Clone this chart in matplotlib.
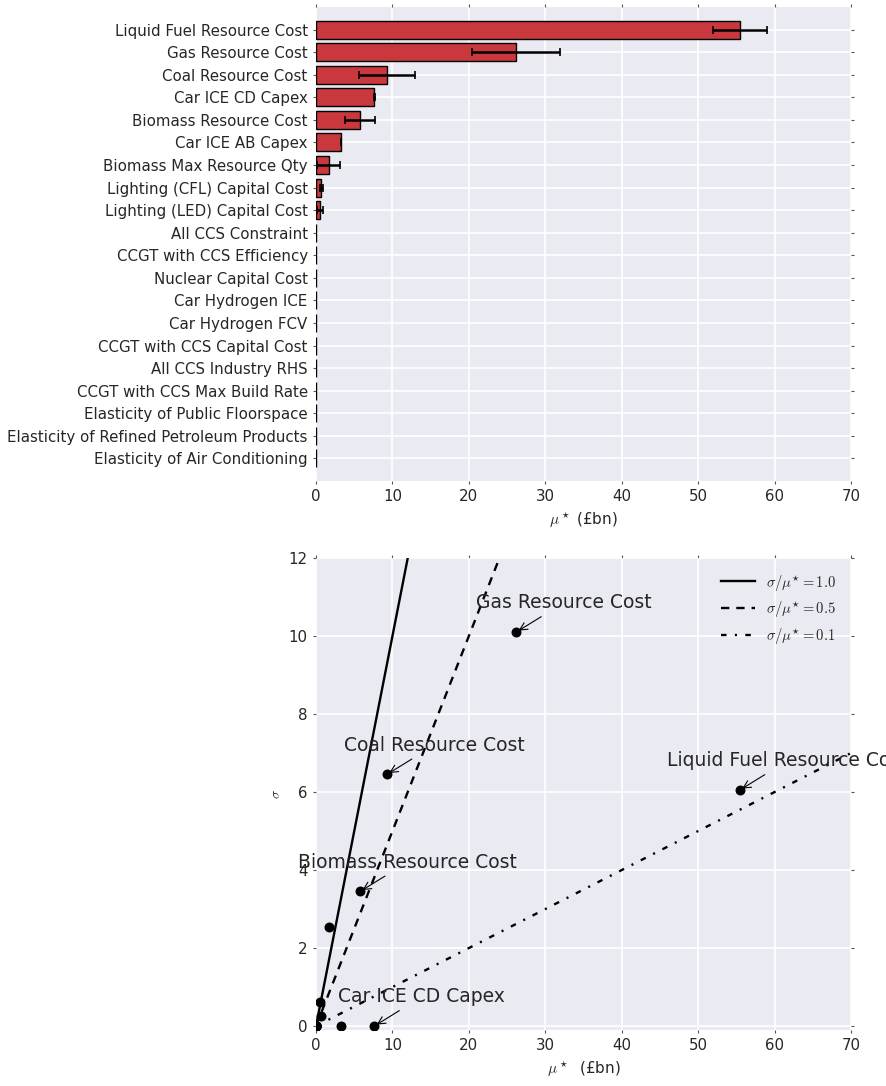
import matplotlib as mpl
mpl.use('Agg')
import matplotlib.pyplot as plt
import numpy as np

names = ["Liquid Fuel Resource Cost", "Gas Resource Cost", "Coal Resource Cost",
         "Car ICE CD Capex", "Biomass Resource Cost", "Car ICE AB Capex",
         "Biomass Max Resource Qty", "Lighting (CFL) Capital Cost",
         "Lighting (LED) Capital Cost", "All CCS Constraint",
         "CCGT with CCS Efficiency", "Nuclear Capital Cost", "Car Hydrogen ICE",
         "Car Hydrogen FCV", "CCGT with CCS Capital Cost", "All CCS Industry RHS",
         "CCGT with CCS Max Build Rate", "Elasticity of Public Floorspace",
         "Elasticity of Refined Petroleum Products", "Elasticity of Air Conditioning"]
mu_star = [55.45, 26.2, 9.27, 7.63, 5.76, 3.28, 1.64, 0.70, 0.47, 0.05,
           0.03, 0.03, 0.02, 0.02, 0.02, 0.02, 0.02, 0.02, 0.02, 0.02]
mu_star_conf = [3.55, 5.78, 3.65, 0.05, 2.0, 0.02, 1.55, 0.2, 0.4, 0.0,
                0.0, 0.0, 0.0, 0.0, 0.0, 0.0, 0.0, 0.0, 0.0, 0.0]
sigma = [6.05, 10.1, 6.45, 0.0, 3.45, 0.0, 2.55, 0.27, 0.61, 0.0,
         0.0, 0.0, 0.0, 0.0, 0.0, 0.0, 0.0, 0.0, 0.0, 0.0]
labelled = ["Liquid Fuel Resource Cost", "Gas Resource Cost", "Coal Resource Cost",
            "Biomass Resource Cost", "Car ICE CD Capex"]
ratios = [1.0, 0.5, 0.1]
dash_styles = [None, (6, 5), (4, 6, 1.5, 6)]

plt.rcParams['mathtext.fontset'] = 'cm'
plt.rcParams['font.family'] = ['DejaVu Sans']
plt.rcParams['lines.scale_dashes'] = False
plt.rcParams['axes.facecolor'] = '#EAEAF2'
plt.rcParams['axes.edgecolor'] = 'white'
plt.rcParams['grid.color'] = 'white'
plt.rcParams['grid.linewidth'] = 1.2
plt.rcParams['xtick.color'] = '#262626'
plt.rcParams['ytick.color'] = '#262626'
plt.rcParams['text.color'] = '#262626'
plt.rcParams['axes.labelcolor'] = '#262626'

fig = plt.figure(figsize=(8.86, 10.86), dpi=100)
ax1 = fig.add_axes([0.3567, 0.5571, 0.6038, 0.4364])
ax2 = fig.add_axes([0.3567, 0.0516, 0.6038, 0.4346])

# top: horizontal bars of mu_star
y_pos = np.arange(len(names))
ax1.barh(y_pos, mu_star, xerr=mu_star_conf, align='center', height=0.8,
         color='#C8383C', edgecolor='black', linewidth=1,
         error_kw=dict(ecolor='black', elinewidth=1.8, capsize=3, capthick=1.2))
ax1.set_yticks(y_pos)
ax1.set_yticklabels(names, fontsize=10.4)
ax1.set_ylim(len(names), -1)
ax1.set_xlim(0, 70)
ax1.set_xlabel(r'$\mu^\star$ (£bn)', fontsize=11)
ax1.grid(True)
ax1.set_axisbelow(True)

# bottom: sigma against mu_star
x_line = np.array([0, 70])
for r, d in zip(ratios, dash_styles):
    ln, = ax2.plot(x_line, r * x_line, color='black', lw=1.7,
                   label=r'$\sigma / \mu^{\star} = %.1f$' % r)
    if d is not None:
        ln.set_dashes(d)
ax2.scatter(mu_star, sigma, c='black', s=38, zorder=3)
for n, m, s in zip(names, mu_star, sigma):
    if n in labelled:
        ax2.annotate(n, xy=(m, s), xytext=(34, 21), textcoords='offset points',
                     ha='center', va='center', fontsize=13.5,
                     arrowprops=dict(arrowstyle='->', color='black', lw=0.8))
ax2.set_xlim(0, 70)
ax2.set_ylim(-0.1, 12)
ax2.set_yticks(np.arange(0, 13, 2))
ax2.set_xticks(np.arange(0, 71, 10))
ax2.set_xlabel(r'$\mu^\star$  (£bn)', fontsize=11)
ax2.set_ylabel(r'$\sigma$', fontsize=10)
ax2.legend(loc='upper right', frameon=False, fontsize=10.5, handlelength=2.3,
           labelspacing=0.45, borderaxespad=0.6)
ax2.grid(True)
ax2.set_axisbelow(True)

for ax in (ax1, ax2):
    ax.tick_params(which='both', direction='out', length=2.5, width=0.8,
                   top=True, right=True, labelsize=10.8, color='#555555')
    for sp in ax.spines.values():
        sp.set_visible(False)

fig.savefig('out.png', dpi=100)
